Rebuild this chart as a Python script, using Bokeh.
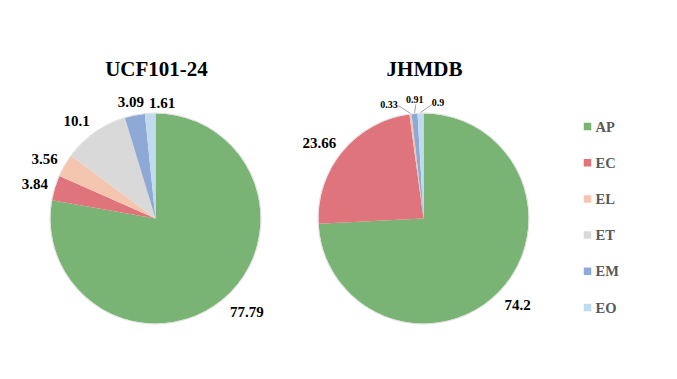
import numpy as np
from bokeh.plotting import figure
from bokeh.models import Range1d, ColumnDataSource
from bokeh.core.properties import value
from bokeh.embed import file_html
from bokeh.resources import INLINE

# ---- data ----
categories = ["AP", "EC", "EL", "ET", "EM", "EO"]
ucf_values = [77.79, 3.84, 3.56, 10.1, 3.09, 1.61]
jhmdb_values = [74.2, 23.66, 0.33, 0.0, 0.91, 0.9]
titles = ["UCF101-24", "JHMDB"]

# ---- style / layout ----
colors = ["#7AB474", "#E0747C", "#F4C6B0", "#D9D9D9", "#8EA9D6", "#C0DBEE"]
W, H = 661, 363
FONT = value("Liberation Serif")


def P(ix, iy):
    """page-pixel -> figure data coords"""
    return ix, H - iy


centers = [(155, 218), (423, 218)]
R = 105
R_LABEL = 125
# label nudges (page pixels dx, dy) per slice
nudges = [
    [(11, -2), (-1, 2.5), (-3, 4), (-7, 4.4), (0, 6.5), (13, 9)],
    [(3.5, 0), (-8, 4), (-19, 10), (0, 0), (2, 5.5), (18, 9)],
]
# leader line end offsets from label centre for small labels
leader = [
    [None] * 6,
    [None, None, (9, 1), None, (1, 5), (-6, 2)],
]

p = figure(width=W, height=H, x_range=Range1d(0, W), y_range=Range1d(0, H),
           output_backend="svg", toolbar_location=None, min_border=0)
p.axis.visible = False
p.grid.visible = False
p.outline_line_color = None
p.background_fill_color = "white"
p.border_fill_color = "white"

for k, vals in enumerate([ucf_values, jhmdb_values]):
    vals = np.array(vals, dtype=float)
    frac = vals / vals.sum()
    c1 = np.cumsum(frac)
    c0 = c1 - frac
    cx, cy = P(*centers[k])
    keep = vals > 0
    start = np.pi / 2 - 2 * np.pi * c0
    end = np.pi / 2 - 2 * np.pi * c1
    src = ColumnDataSource(dict(start=start[keep], end=end[keep],
                                color=[c for c, kk in zip(colors, keep) if kk]))
    p.wedge(x=cx, y=cy, radius=R, start_angle="start", end_angle="end",
            direction="clock", fill_color="color", line_color=None, source=src)
    p.circle(x=cx, y=cy, radius=R + 0.5, fill_color=None,
             line_color="#d8d8d8", line_width=0.8)

    # labels
    mid = 2 * np.pi * (c0 + c1) / 2  # clockwise from top
    lx, ly, lt, lsz = [], [], [], []
    segs = dict(x0=[], y0=[], x1=[], y1=[])
    for i, v in enumerate(vals):
        if v <= 0:
            continue
        ix = centers[k][0] + R_LABEL * np.sin(mid[i]) + nudges[k][i][0]
        iy = centers[k][1] - R_LABEL * np.cos(mid[i]) + nudges[k][i][1]
        x, y = P(ix, iy)
        lx.append(x); ly.append(y)
        lt.append(f"{v:g}")
        small = v < 1
        lsz.append("10px" if small else "15px")
        if small and leader[k][i] is not None:
            ex = centers[k][0] + (R + 1) * np.sin(mid[i])
            ey = centers[k][1] - (R + 1) * np.cos(mid[i])
            a0 = P(ex, ey)
            a1 = P(ix + leader[k][i][0], iy + leader[k][i][1])
            segs["x0"].append(a0[0]); segs["y0"].append(a0[1])
            segs["x1"].append(a1[0]); segs["y1"].append(a1[1])
    if segs["x0"]:
        p.segment(x0="x0", y0="y0", x1="x1", y1="y1", source=ColumnDataSource(segs),
                  line_color="#8c8c8c", line_width=0.8)
    p.text(x="x", y="y", text="t", text_font_size="s",
           source=ColumnDataSource(dict(x=lx, y=ly, t=lt, s=lsz)),
           text_font=FONT, text_font_style="bold", text_color="black",
           text_align="center", text_baseline="middle")

    # title
    tx, ty = P(centers[k][0] + 1, 68.5)
    p.text(x=[tx], y=[ty], text=[titles[k]], text_font=FONT, text_font_size="21px",
           text_font_style="bold", text_color="black",
           text_align="center", text_baseline="middle")

# legend
leg_y = [P(587, 126 + 36.2 * i)[1] for i in range(len(categories))]
p.scatter(x=[P(587, 0)[0]] * len(categories), y=leg_y, marker="square", size=7.5,
          fill_color=colors, line_color=None)
p.text(x=[P(595, 0)[0]] * len(categories), y=leg_y, text=categories,
       text_font=FONT, text_font_size="14.5px", text_font_style="bold",
       text_color="#595959", text_align="left", text_baseline="middle")

open("out.html", "w").write(file_html(p, INLINE))
